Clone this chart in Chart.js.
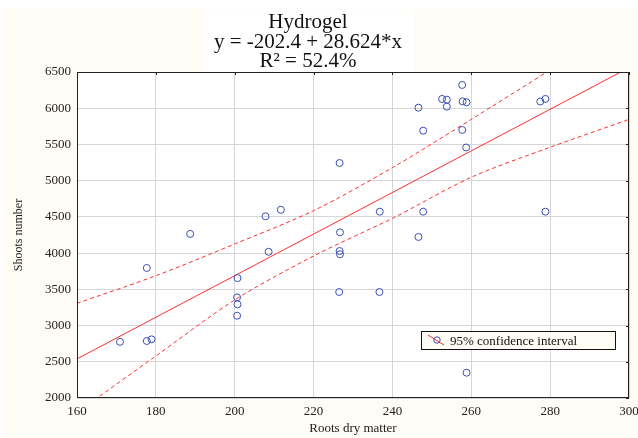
<!DOCTYPE html>
<html>
<head>
<meta charset="utf-8">
<script src="https://cdn.jsdelivr.net/npm/chart.js@4"></script>
<style>
  body { margin: 0; background: #fff; }
  canvas { display: block; }
</style>
</head>
<body>
<canvas id="chartHydrogel" width="638" height="438"></canvas>
<script>
const rootsDry = [170.9, 177.7, 177.7, 178.9, 188.7, 200.7, 200.6, 200.7, 200.6, 208.6,
  207.8, 211.7, 226.6, 226.7, 226.6, 226.7, 226.5, 236.8, 236.7, 246.6,
  247.8, 246.6, 247.8, 252.6, 253.8, 253.8, 257.7, 257.8, 258.8, 257.7,
  258.7, 258.8, 277.5, 278.8, 278.8];
const shoots = [2775, 3795, 2787, 2810, 4265, 3655, 3390, 3293, 3136, 4018,
  4508, 4598, 5244, 4287, 4029, 3984, 3463, 4572, 3463, 6008,
  5690, 4223, 4572, 6128, 6118, 6022, 6321, 6095, 6082, 5700,
  5458, 2349, 6093, 6128, 4572];

// fitted line and 95% band, as drawn
const fitX = [160, 300];
const fitY = [2540, 6560];
const bandX = [160, 180, 200, 220, 240, 260, 280, 300];
const upperBand = [3307, 3688, 4126, 4586, 5180, 5847, 6530, 7250];
const lowerBand = [1800, 2580, 3353, 3960, 4480, 5047, 5461, 5845];

const xTicks = [160, 180, 200, 220, 240, 260, 280, 300];
const yTicks = [2000, 2500, 3000, 3500, 4000, 4500, 5000, 5500, 6000, 6500];

const titleLines = ['Hydrogel', 'y = -202.4 + 28.624*x', 'R\u00b2 = 52.4%'];
const legendText = '95% confidence interval';

const serif = '"Liberation Serif", "Times New Roman", serif';
const cream = '#fffcf5';
const red = '#ff2f2f';
const blue = '#3a50b8';

function pairs(xs, ys) {
  return xs.map((x, i) => ({x: x, y: ys[i]}));
}

const decor = {
  id: 'decor',
  beforeDraw(chart) {
    const ctx = chart.ctx;
    const a = chart.chartArea;
    ctx.save();
    ctx.fillStyle = '#fff';
    ctx.fillRect(0, 0, chart.width, chart.height);
    ctx.fillStyle = cream;
    ctx.fillRect(4, 8, chart.width - 4, chart.height - 8);
    ctx.fillStyle = '#fff';
    ctx.fillRect(203, 9, 210, a.top - 9);
    ctx.fillRect(a.left, a.top, a.right - a.left, a.bottom - a.top);
    ctx.restore();
  },
  afterDraw(chart) {
    const ctx = chart.ctx;
    const a = chart.chartArea;
    const xs = chart.scales.x;
    const ys = chart.scales.y;
    ctx.save();

    // frame
    ctx.strokeStyle = '#222';
    ctx.lineWidth = 1;
    ctx.strokeRect(a.left + 0.5, a.top + 0.5, a.right - a.left - 1, a.bottom - a.top - 1);
    ctx.beginPath();
    xTicks.forEach(v => {
      const px = Math.round(xs.getPixelForValue(v)) + 0.5;
      ctx.moveTo(px, a.top); ctx.lineTo(px, a.top + 3);
    });
    yTicks.forEach(v => {
      const py = Math.round(ys.getPixelForValue(v)) + 0.5;
      ctx.moveTo(a.right, py); ctx.lineTo(a.right - 3, py);
    });
    ctx.stroke();

    // title
    ctx.fillStyle = '#111';
    ctx.font = '21px ' + serif;
    ctx.textAlign = 'center';
    ctx.textBaseline = 'alphabetic';
    ctx.fillText(titleLines[0], 308, 28);
    ctx.fillText(titleLines[1], 308, 48);
    ctx.fillText(titleLines[2], 308, 67);

    // legend
    ctx.fillStyle = cream;
    ctx.fillRect(421, 331, 194, 18);
    ctx.strokeStyle = '#111';
    ctx.strokeRect(421.5, 331.5, 194, 18);
    ctx.strokeStyle = red;
    ctx.beginPath();
    ctx.moveTo(428, 335); ctx.lineTo(444, 345);
    ctx.stroke();
    ctx.strokeStyle = blue;
    ctx.beginPath();
    ctx.arc(437, 340, 3.2, 0, Math.PI * 2);
    ctx.stroke();
    ctx.fillStyle = '#111';
    ctx.font = '13px ' + serif;
    ctx.textAlign = 'left';
    ctx.fillText(legendText, 450, 345);
    ctx.restore();
  }
};

new Chart(document.getElementById('chartHydrogel'), {
  type: 'scatter',
  data: {
    datasets: [
      {
        label: 'Shoots',
        data: pairs(rootsDry, shoots),
        pointStyle: 'circle',
        pointRadius: 3.5,
        pointBorderWidth: 1,
        pointBorderColor: blue,
        pointBackgroundColor: 'rgba(0,0,0,0)',
        showLine: false,
        order: 0
      },
      {
        label: 'Fit',
        data: pairs(fitX, fitY),
        showLine: true,
        borderColor: red,
        borderWidth: 1,
        pointRadius: 0,
        order: 1
      },
      {
        label: 'Upper 95%',
        data: pairs(bandX, upperBand),
        showLine: true,
        borderColor: red,
        borderWidth: 1,
        borderDash: [4, 3],
        tension: 0.3,
        pointRadius: 0,
        order: 2
      },
      {
        label: 'Lower 95%',
        data: pairs(bandX, lowerBand),
        showLine: true,
        borderColor: red,
        borderWidth: 1,
        borderDash: [4, 3],
        tension: 0.3,
        pointRadius: 0,
        order: 3
      }
    ]
  },
  options: {
    responsive: false,
    animation: false,
    layout: { padding: { top: 72, left: 4, right: 9, bottom: 0 } },
    plugins: {
      legend: { display: false },
      title: { display: false },
      tooltip: { enabled: false }
    },
    scales: {
      x: {
        type: 'linear',
        min: 160,
        max: 300,
        afterFit(scale) { scale.height = 40; scale.paddingRight = 0; scale.paddingLeft = 0; },
        afterBuildTicks(scale) { scale.ticks = xTicks.map(v => ({value: v})); },
        grid: { color: '#d6d6d6', drawTicks: false },
        border: { display: false },
        ticks: { color: '#222', padding: 6, font: { family: serif, size: 13 }, callback: v => String(v) },
        title: {
          display: true,
          text: 'Roots dry matter',
          color: '#222',
          padding: { top: 0, bottom: 2 },
          font: { family: serif, size: 13 }
        }
      },
      y: {
        type: 'linear',
        min: 2000,
        max: 6500,
        afterFit(scale) { scale.width = 73; scale.paddingTop = 0; scale.paddingBottom = 0; },
        afterBuildTicks(scale) { scale.ticks = yTicks.map(v => ({value: v})); },
        grid: { color: '#d6d6d6', drawTicks: false },
        border: { display: false },
        ticks: { color: '#222', padding: 6, font: { family: serif, size: 13 }, callback: v => String(v) },
        title: {
          display: true,
          text: 'Shoots number',
          color: '#222',
          padding: { top: 8, bottom: 0 },
          font: { family: serif, size: 12 }
        }
      }
    }
  },
  plugins: [decor]
});
</script>
</body>
</html>
